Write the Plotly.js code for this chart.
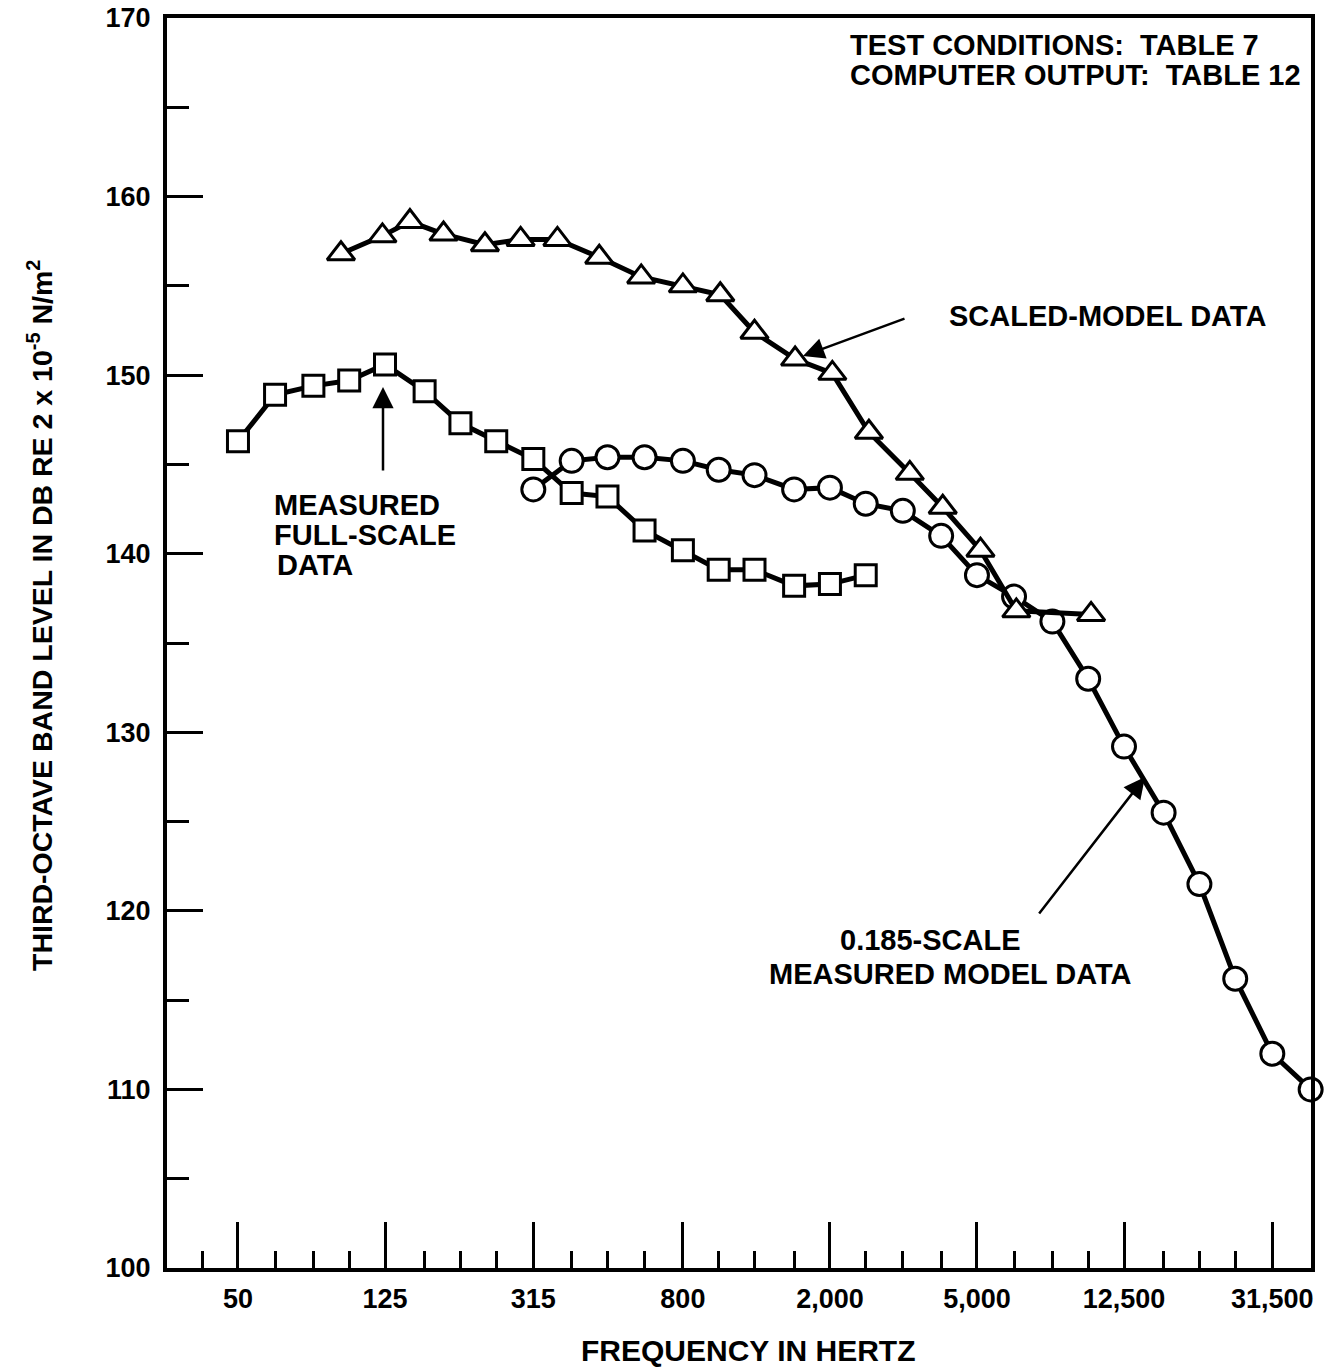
<!DOCTYPE html>
<html>
<head>
<meta charset="utf-8">
<script src="https://cdn.plot.ly/plotly-3.0.1.min.js"></script>
<style>
  html, body { margin: 0; padding: 0; background: #ffffff; }
  #chart { width: 1335px; height: 1367px; }
</style>
</head>
<body>
<div id="chart"></div>
<script>
// Third-octave band centre frequencies (Hz) used for the minor ticks
var bandFreqs = [40, 50, 63, 80, 100, 125, 160, 200, 250, 315, 400, 500, 630, 800,
  1000, 1250, 1600, 2000, 2500, 3150, 4000, 5000, 6300, 8000, 10000, 12500,
  16000, 20000, 25000, 31500, 40000];

// Labelled frequency ticks
var tickFreqs = [50, 125, 315, 800, 2000, 5000, 12500, 31500];
var tickLabels = ['50', '125', '315', '800', '2,000', '5,000', '12,500', '31,500'];

// Level ticks (dB)
var levelTicks = [100, 110, 120, 130, 140, 150, 160, 170];

// Measured full-scale data (squares)
var fullScaleFreq = [50, 63, 80, 100, 125, 160, 200, 250, 315, 400, 500, 630, 800,
  1000, 1250, 1600, 2000, 2500];
var fullScaleLevel = [146.3, 148.9, 149.4, 149.7, 150.6, 149.1, 147.3, 146.3, 145.3,
  143.4, 143.2, 141.3, 140.2, 139.1, 139.1, 138.2, 138.3, 138.8];

// 0.185-scale measured model data (circles)
var modelFreq = [315, 400, 500, 630, 800, 1000, 1250, 1600, 2000, 2500, 3150, 4000,
  5000, 6300, 8000, 10000, 12500, 16000, 20000, 25000, 31500, 40000];
var modelLevel = [143.6, 145.2, 145.4, 145.4, 145.2, 144.7, 144.4, 143.6, 143.7, 142.8,
  142.4, 141.0, 138.8, 137.6, 136.2, 133.0, 129.2, 125.5, 121.5, 116.2, 112.0, 110.0];

// Scaled-model data (triangles), frequencies scaled to full size
var scaledFreq = [95, 123, 146, 180, 233, 291, 366, 475, 617, 800, 1010, 1250, 1610,
  2030, 2550, 3290, 4040, 5110, 6390, 10180];
var scaledLevel = [156.8, 157.8, 158.6, 157.9, 157.3, 157.6, 157.6, 156.6, 155.5, 155.0,
  154.5, 152.4, 150.9, 150.1, 146.8, 144.5, 142.6, 140.2, 136.8, 136.6];

var FONT = 'Liberation Sans, Arial, Helvetica, sans-serif';

// Plot area in pixels
var W = 1335, H = 1367;
var M = { l: 167, r: 24, t: 18, b: 99 };
var plotW = W - M.l - M.r, plotH = H - M.t - M.b;
function px(x) { return (x - M.l) / plotW; }
function py(y) { return (M.t + plotH - y) / plotH; }

function series(xs, ys, symbol, size) {
  return {
    x: xs, y: ys, type: 'scatter', mode: 'lines+markers',
    line: { color: '#000', width: 5 },
    marker: { symbol: symbol, size: size, color: '#fff', line: { color: '#000', width: 3 } },
    cliponaxis: false, showlegend: false, hoverinfo: 'x+y'
  };
}

var data = [
  series(fullScaleFreq, fullScaleLevel, 'square', 21),
  series(modelFreq, modelLevel, 'circle', 23),
  series(scaledFreq, scaledLevel, 'triangle-up', 24)
];

function label(text, x, y, xanchor, size) {
  return {
    text: text, xref: 'paper', yref: 'paper', x: px(x), y: py(y),
    xanchor: xanchor || 'left', yanchor: 'middle', showarrow: false,
    font: { family: FONT, size: size || 29, color: '#000', weight: 'bold' }
  };
}
function arrow(hx, hy, ax, ay) {
  return {
    text: '', xref: 'paper', yref: 'paper', x: px(hx), y: py(hy),
    showarrow: true, ax: ax, ay: ay, arrowhead: 2, arrowsize: 1.7,
    arrowwidth: 2.5, arrowcolor: '#000', standoff: 0
  };
}

var annotations = [
  label('TEST CONDITIONS:&nbsp; TABLE 7', 848, 45),
  label('COMPUTER OUTPUT:&nbsp; TABLE 12', 848, 75),
  label('SCALED-MODEL DATA', 947, 316),
  arrow(803, 356, 103, -38),
  label('MEASURED', 272, 505),
  label('FULL-SCALE', 272, 535),
  label('DATA', 275, 565),
  arrow(383, 387, 0, 85),
  label('0.185-SCALE', 930, 940, 'center'),
  label('MEASURED MODEL DATA', 950, 974, 'center'),
  arrow(1145, 777, -107, 138),
  label('FREQUENCY IN HERTZ', 748, 1350, 'center', 30),
  {
    text: 'THIRD-OCTAVE BAND LEVEL IN DB RE 2 x 10<sup>-5</sup> N/m<sup>2</sup>',
    xref: 'paper', yref: 'paper', x: px(40), y: py(616),
    xanchor: 'center', yanchor: 'middle', textangle: -90, showarrow: false,
    font: { family: FONT, size: 28.5, color: '#000', weight: 'bold' }
  }
];

var layout = {
  width: W, height: H,
  margin: M,
  paper_bgcolor: '#fff', plot_bgcolor: '#fff',
  font: { family: FONT, color: '#000', weight: 'bold' },
  xaxis: {
    type: 'log',
    range: [1.5069, 4.6030],
    tickmode: 'array', tickvals: tickFreqs, ticktext: tickLabels,
    ticks: 'inside', ticklen: 46, tickwidth: 3, tickcolor: '#000',
    minor: { tickmode: 'array', tickvals: bandFreqs, ticks: 'inside', ticklen: 17,
      tickwidth: 3, tickcolor: '#000', showgrid: false },
    showline: true, linewidth: 4, linecolor: '#000', mirror: true,
    showgrid: false, zeroline: false,
    tickfont: { family: FONT, size: 27, color: '#000', weight: 'bold' },
    ticklabelstandoff: 4
  },
  yaxis: {
    range: [100, 170],
    tickmode: 'array', tickvals: levelTicks,
    ticks: 'inside', ticklen: 36, tickwidth: 3, tickcolor: '#000',
    minor: { dtick: 5, tick0: 100, ticks: 'inside', ticklen: 22, tickwidth: 3,
      tickcolor: '#000', showgrid: false },
    showline: true, linewidth: 4, linecolor: '#000', mirror: true,
    showgrid: false, zeroline: false,
    tickfont: { family: FONT, size: 27, color: '#000', weight: 'bold' },
    ticklabelstandoff: 7
  },
  annotations: annotations
};

Plotly.newPlot('chart', data, layout, { staticPlot: true, displayModeBar: false });
</script>
</body>
</html>
